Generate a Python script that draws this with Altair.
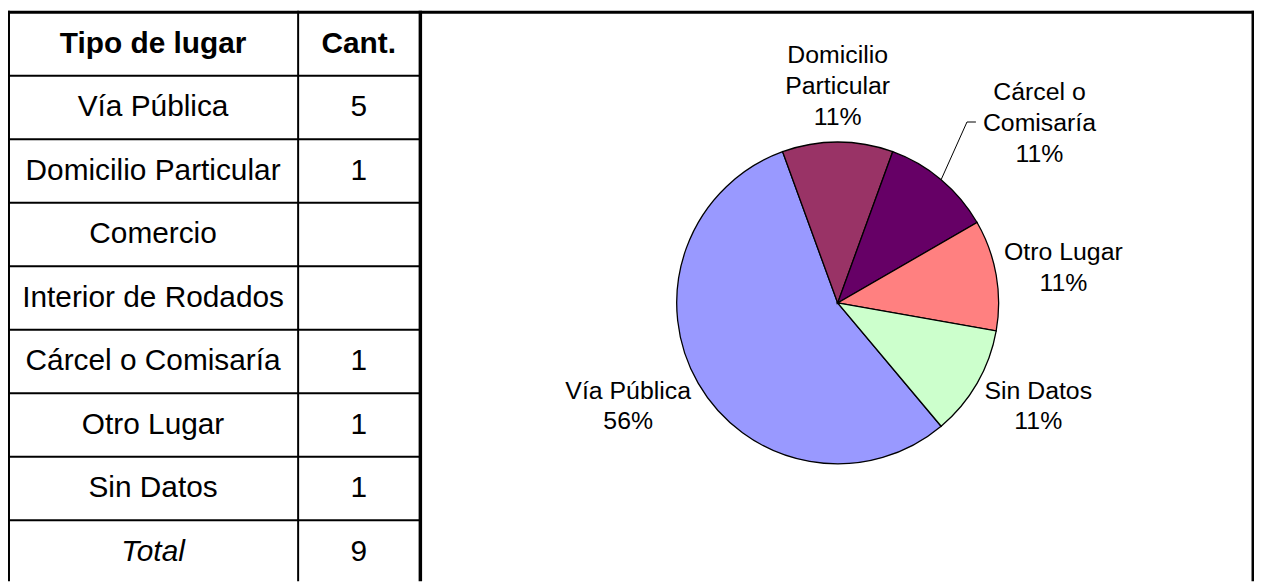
import math
import altair as alt
import pandas as pd

# ---------------- data ----------------
lugares = ["Vía Pública", "Domicilio Particular", "Comercio", "Interior de Rodados",
           "Cárcel o Comisaría", "Otro Lugar", "Sin Datos"]
cantidades = [5, 1, 0, 0, 1, 1, 1]
header = ["Tipo de lugar", "Cant."]
total_label = "Total"
# wrapped pie labels (as in the chart)
pie_label_text = {
    "Vía Pública": "Vía Pública",
    "Domicilio Particular": "Domicilio\nParticular",
    "Cárcel o Comisaría": "Cárcel o\nComisaría",
    "Otro Lugar": "Otro Lugar",
    "Sin Datos": "Sin Datos",
}
pie_colors = {
    "Vía Pública": "#9999FF",
    "Domicilio Particular": "#993366",
    "Cárcel o Comisaría": "#660066",
    "Otro Lugar": "#FF8080",
    "Sin Datos": "#CCFFCC",
}
# label placement (layout): radial distance (px) and angular nudge (deg) of the label block centre
label_radius = {"Vía Pública": 235, "Domicilio Particular": 218, "Cárcel o Comisaría": 272,
                "Otro Lugar": 230, "Sin Datos": 227}
label_nudge = {"Vía Pública": 3.8, "Domicilio Particular": 0, "Cárcel o Comisaría": 8.3,
               "Otro Lugar": 1, "Sin Datos": -2.8}

# ---------------- layout ----------------
W, H = 1254, 575
FONT = "Liberation Sans"
ROW_TOP, ROW_H, N_ROWS = 2.5, 63.9, 9
COL1_X, COL2_X = 146, 353
X_SEP, X_THICK, X_RIGHT = 292, 415, 1253
CX, CY, R = 835, 295, 162
START_DEG = 140
LBL_SIZE, LBL_LH = 25, 31
TBL_SIZE = 30

total = sum(cantidades)
y_scale = alt.Scale(domain=[0, N_ROWS], range=[ROW_TOP, ROW_TOP + N_ROWS * ROW_H],
                    nice=False, zero=False)

one = pd.DataFrame({"k": [0]})

# ---------------- table grid ----------------
h_lines = alt.Chart(pd.DataFrame({"b": list(range(1, N_ROWS))})).mark_rule(
    color="black", strokeWidth=2).encode(
    y=alt.Y("b:Q", scale=y_scale, axis=None), x=alt.value(0), x2=alt.value(X_THICK))

top_line = alt.Chart(pd.DataFrame({"b": [0]})).mark_rule(
    color="black", strokeWidth=3).encode(
    y=alt.Y("b:Q", scale=y_scale, axis=None), x=alt.value(0), x2=alt.value(W))

def vline(x, w):
    return alt.Chart(one).mark_rule(color="black", strokeWidth=w).encode(
        x=alt.value(x), y=alt.value(1), y2=alt.value(H))

v_left = vline(0.5, 3)
v_sep = vline(X_SEP, 2)
v_thick = vline(X_THICK, 3.5)
v_right = vline(X_RIGHT, 3)

# ---------------- table text ----------------
hdr_df = pd.DataFrame({"txt": header, "r": [0.5, 0.5]})
body_df = pd.DataFrame({
    "lugar": lugares,
    "cant": [str(c) if c else "" for c in cantidades],
    "r": [i + 1.5 for i in range(len(lugares))],
})
tot_df = pd.DataFrame({"lugar": [total_label], "cant": [str(total)],
                       "r": [len(lugares) + 1.5]})

def ttext(df, field, x, **kw):
    return alt.Chart(df).mark_text(font=FONT, fontSize=TBL_SIZE, color="black",
                                   align="center", baseline="middle", **kw).encode(
        x=alt.value(x), y=alt.Y("r:Q", scale=y_scale, axis=None), text=f"{field}:N")

hdr1 = ttext(hdr_df.iloc[[0]], "txt", COL1_X, fontWeight="bold")
hdr2 = ttext(hdr_df.iloc[[1]], "txt", COL2_X, fontWeight="bold")
body1 = ttext(body_df, "lugar", COL1_X)
body2 = ttext(body_df, "cant", COL2_X)
tot1 = ttext(tot_df, "lugar", COL1_X, fontStyle="italic")
tot2 = ttext(tot_df, "cant", COL2_X)

# ---------------- pie ----------------
pie_df = pd.DataFrame({"lugar": lugares, "cant": cantidades})
pie_df = pie_df[pie_df["cant"] > 0].reset_index(drop=True)
pie_df["idx"] = range(len(pie_df))
start = math.radians(START_DEG)
theta_scale = alt.Scale(domain=[0, total], range=[start, start + 2 * math.pi])

arcs = alt.Chart(pie_df).mark_arc(radius=R, stroke="black", strokeWidth=1.3).encode(
    theta=alt.Theta("cant:Q", stack=True, scale=theta_scale),
    order=alt.Order("idx:Q"),
    color=alt.Color("lugar:N", legend=None,
                    scale=alt.Scale(domain=list(pie_colors), range=list(pie_colors.values()))),
    x=alt.value(CX), y=alt.value(CY),
)

cum = pie_df["cant"].cumsum()
mid = cum - pie_df["cant"] / 2
pie_df["mid_ang"] = start + mid / total * 2 * math.pi
pie_df["label"] = [pie_label_text[l] + "\n" + f"{round(c / total * 100)}%"
                   for l, c in zip(pie_df["lugar"], pie_df["cant"])]

# block centre in polar terms, then moved up so the first line sits where the block starts
angs, rads = [], []
for _, rw in pie_df.iterrows():
    a = rw["mid_ang"] + math.radians(label_nudge[rw["lugar"]])
    r = label_radius[rw["lugar"]]
    dx, dy = r * math.sin(a), -r * math.cos(a)
    n = rw["label"].count("\n") + 1
    dy -= (n - 1) / 2 * LBL_LH
    rads.append(math.hypot(dx, dy))
    angs.append(math.atan2(dx, -dy))
pie_df["ang"] = angs
pie_df["lr"] = rads

labels = alt.Chart(pie_df).mark_text(font=FONT, fontSize=LBL_SIZE, lineBreak="\n",
                                     lineHeight=LBL_LH, align="center", baseline="middle",
                                     color="black").encode(
    x=alt.value(CX), y=alt.value(CY),
    theta=alt.Theta("ang:Q", scale=None, stack=False),
    radius=alt.Radius("lr:Q", scale=None),
    text="label:N",
)

# leader line for "Cárcel o Comisaría"
row = pie_df[pie_df["lugar"] == "Cárcel o Comisaría"].iloc[0]
ax = CX + R * math.sin(row["mid_ang"])
ay = CY - R * math.cos(row["mid_ang"])
ex, ey = ax + 26, ay - 58
leader1 = alt.Chart(one).mark_rule(color="black", strokeWidth=1).encode(
    x=alt.value(ax), y=alt.value(ay), x2=alt.value(ex), y2=alt.value(ey))
leader2 = alt.Chart(one).mark_rule(color="black", strokeWidth=1).encode(
    x=alt.value(ex), y=alt.value(ey), x2=alt.value(ex + 9), y2=alt.value(ey))

chart = alt.layer(
    arcs, labels, leader1, leader2,
    h_lines, top_line, v_left, v_sep, v_thick, v_right,
    hdr1, hdr2, body1, body2, tot1, tot2,
).resolve_scale(theta="independent", radius="independent").properties(
    width=W, height=H, padding=0, autosize="none", background="white"
).configure_view(stroke=None)

chart.save("out.html", embed_options={"renderer": "svg", "actions": False})
